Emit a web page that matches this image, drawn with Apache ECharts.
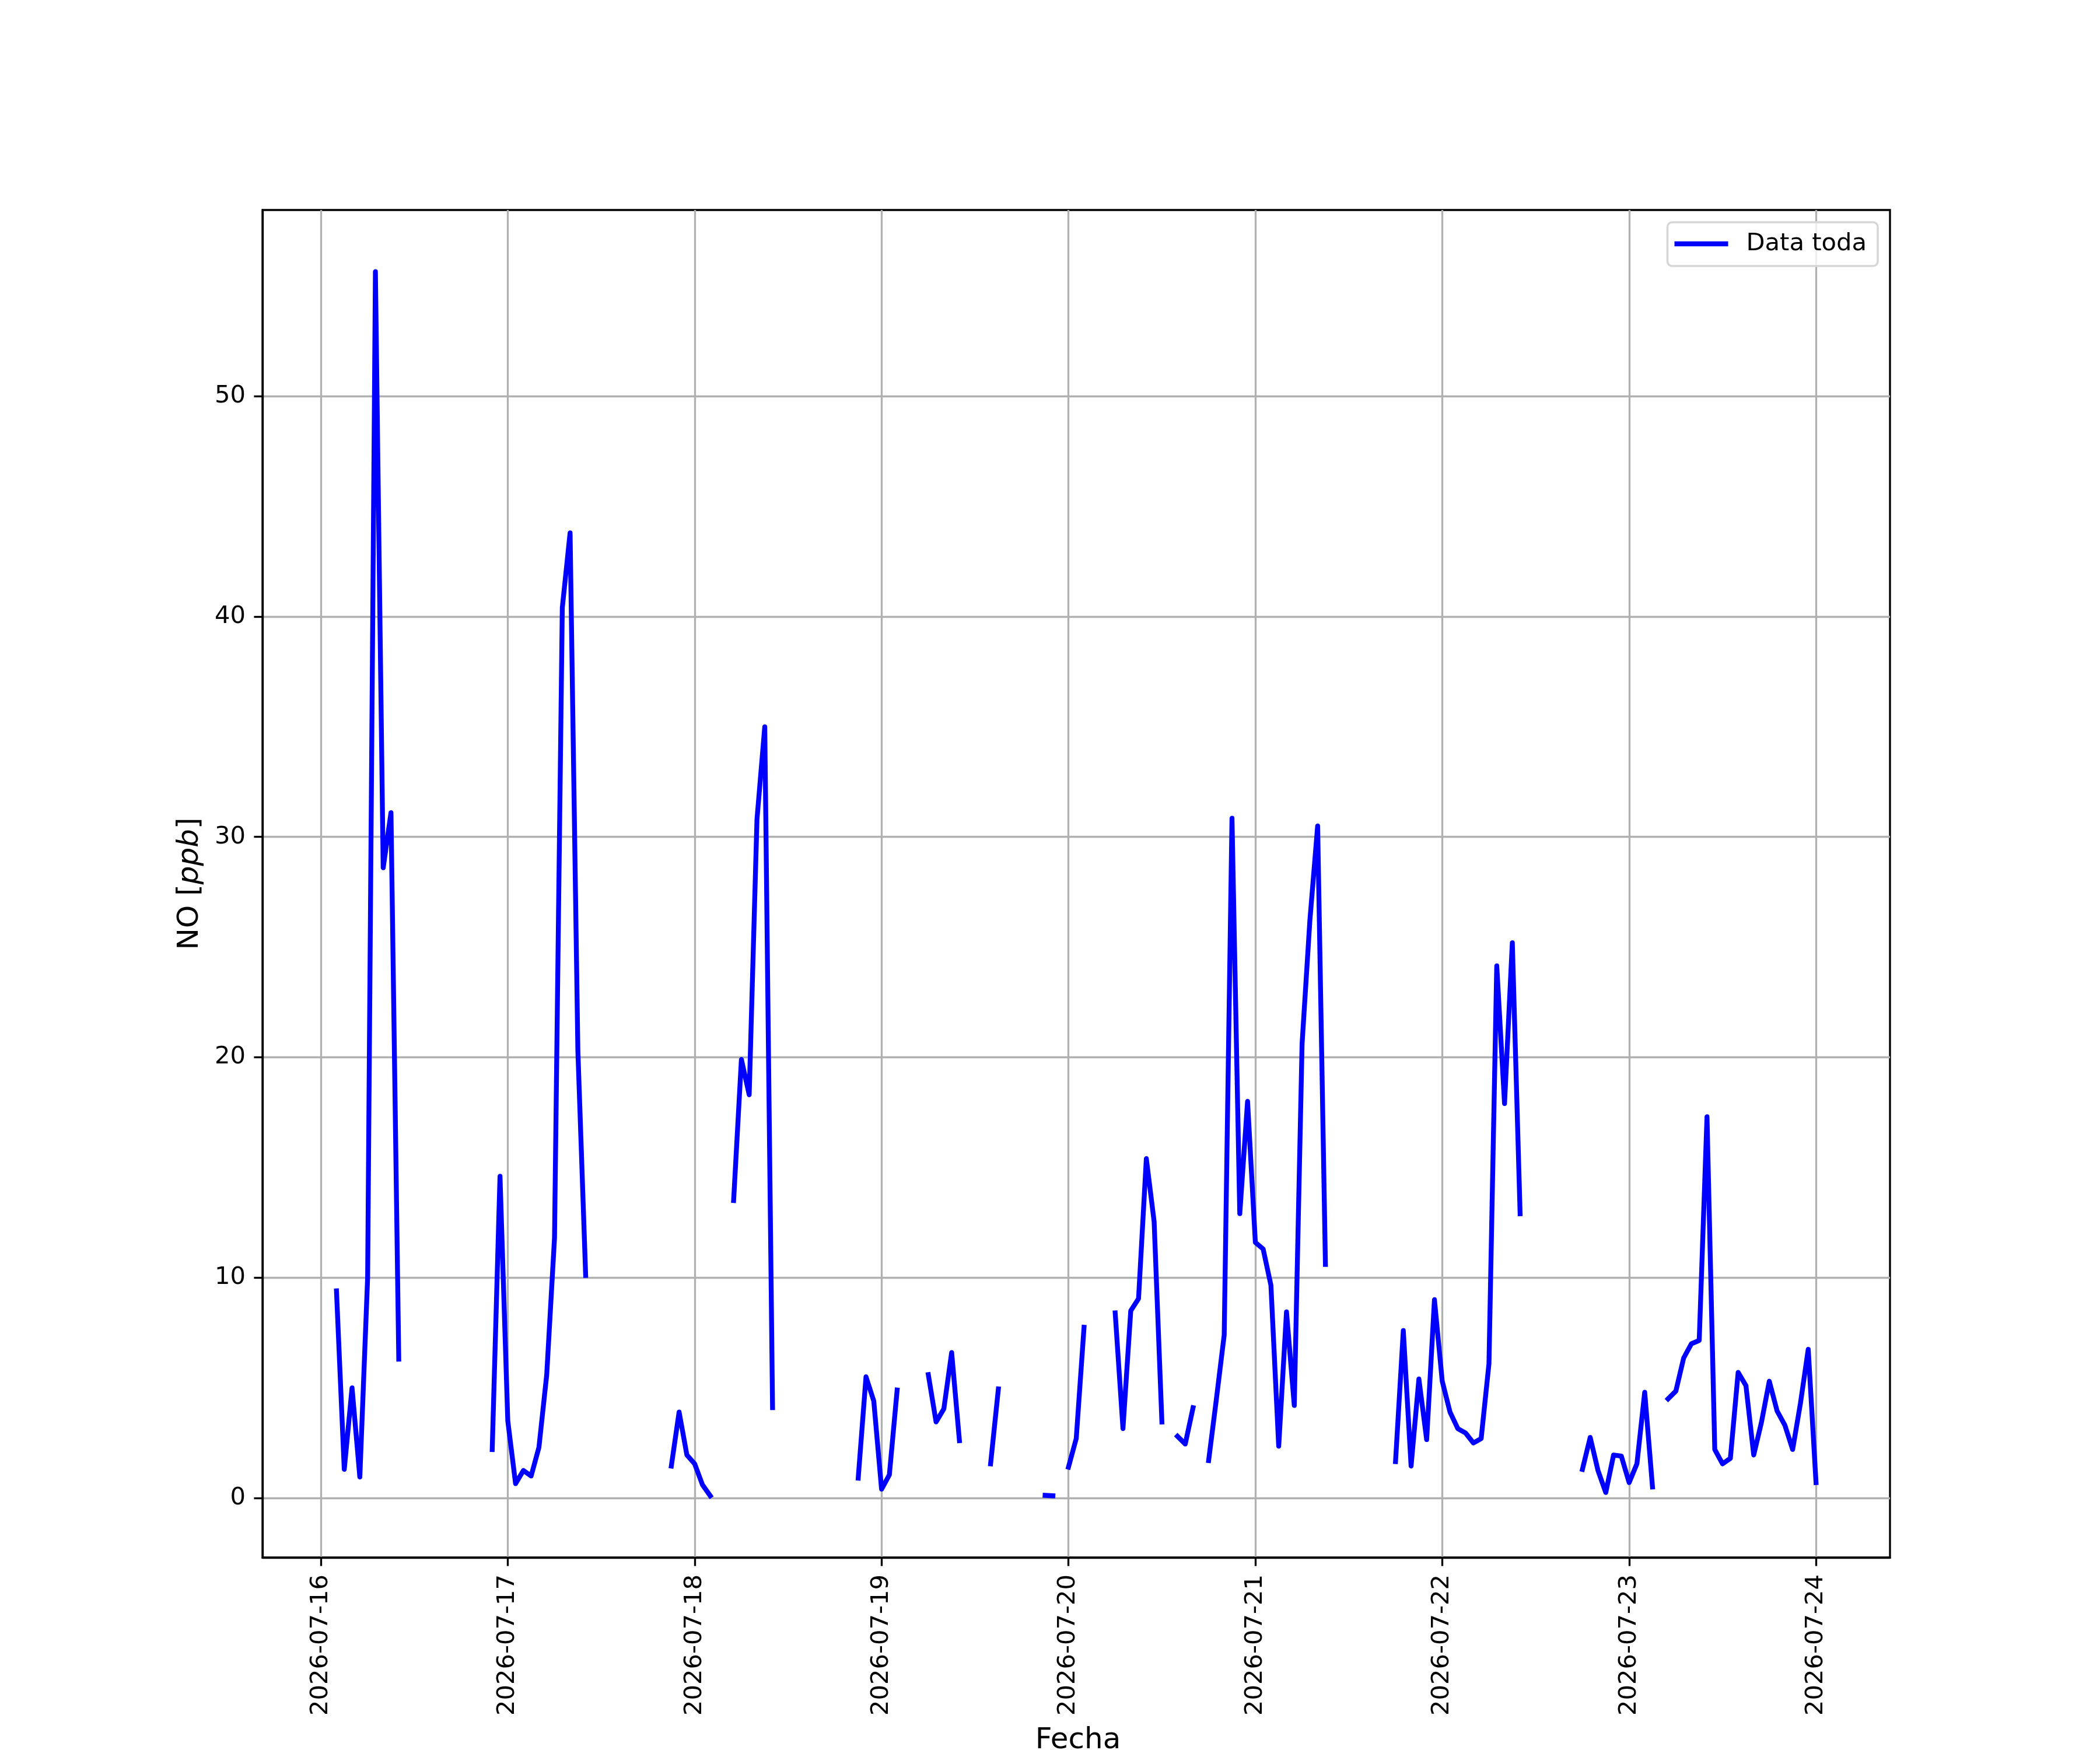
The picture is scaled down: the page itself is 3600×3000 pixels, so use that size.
<!DOCTYPE html>
<html>
<head>
<meta charset="utf-8">
<script src="https://cdn.jsdelivr.net/npm/echarts@6/dist/echarts.min.js"></script>
<style>
html,body{margin:0;padding:0;background:#fff;}
#chart{width:3600px;height:3000px;}
</style>
</head>
<body>
<div id="chart"></div>
<script>
// ---------------- data (hourly NO concentrations, ppb) ----------------
const seriesName = 'Data toda';
const segmentStarts = [
  '2026-07-16T02:00:00', '2026-07-16T22:00:00', '2026-07-17T21:00:00',
  '2026-07-18T05:00:00', '2026-07-18T21:00:00', '2026-07-19T06:00:00',
  '2026-07-19T14:00:00', '2026-07-19T21:00:00', '2026-07-20T00:00:00',
  '2026-07-20T06:00:00', '2026-07-20T14:00:00', '2026-07-20T18:00:00',
  '2026-07-21T18:00:00', '2026-07-22T18:00:00', '2026-07-23T05:00:00'
];
const seg1  = [9.4, 1.3, 5.0, 0.95, 10.0, 55.65, 28.6, 31.1, 6.3];
const seg2  = [2.2, 14.6, 3.5, 0.65, 1.25, 1.0, 2.3, 5.6, 11.8, 40.4, 43.8, 20.3, 10.1];
const seg3  = [1.45, 3.9, 1.95, 1.55, 0.6, 0.1];
const seg4  = [13.5, 19.9, 18.3, 30.8, 35.0, 4.1];
const seg5  = [0.9, 5.5, 4.4, 0.4, 1.05, 4.9];
const seg6  = [5.6, 3.45, 4.05, 6.6, 2.6];
const seg7  = [1.55, 4.95];
const seg8  = [0.12, 0.1];
const seg9  = [1.4, 2.7, 7.75];
const seg10 = [8.4, 3.15, 8.5, 9.05, 15.4, 12.55, 3.45];
const seg11 = [2.8, 2.45, 4.1];
const seg12 = [1.7, 4.5, 7.4, 30.85, 12.9, 18.0, 11.6, 11.3, 9.65, 2.35, 8.45, 4.2, 20.6, 26.2, 30.5, 10.6];
const seg13 = [1.65, 7.6, 1.45, 5.4, 2.65, 9.0, 5.3, 3.9, 3.15, 2.95, 2.5, 2.7, 6.1, 24.15, 17.9, 25.2, 12.9];
const seg14 = [1.3, 2.75, 1.25, 0.25, 1.95, 1.9, 0.7, 1.55, 4.8, 0.5];
const seg15 = [4.5, 4.85, 6.35, 7.0, 7.15, 17.3, 2.2, 1.55, 1.8, 5.7, 5.1, 1.95, 3.45, 5.3, 3.95, 3.3, 2.2, 4.3, 6.75, 0.7];
const segments = [seg1, seg2, seg3, seg4, seg5, seg6, seg7, seg8, seg9, seg10, seg11, seg12, seg13, seg14, seg15];

const dayTicks = ['2026-07-16', '2026-07-17', '2026-07-18', '2026-07-19', '2026-07-20',
                  '2026-07-21', '2026-07-22', '2026-07-23', '2026-07-24'];
const yTicks = [0, 10, 20, 30, 40, 50];
const xRange = ['2026-07-15T16:30:00', '2026-07-24T09:30:00'];
const yRange = [-2.7, 58.45];

// ---------------- build ----------------
const HOUR = 3600000;
const lineData = [];
segments.forEach((vals, i) => {
  const t0 = new Date(segmentStarts[i]).getTime();
  vals.forEach((v, k) => lineData.push([t0 + k * HOUR, v]));
  if (i < segments.length - 1) lineData.push([t0 + vals.length * HOUR, null]);
});
const dayTickValues = dayTicks.map(d => new Date(d + 'T00:00:00').getTime());
const pad = n => (n < 10 ? '0' : '') + n;
const fmtDay = v => { const d = new Date(v); return d.getFullYear() + '-' + pad(d.getMonth() + 1) + '-' + pad(d.getDate()); };

const FONT = 'DejaVu Sans';
const TICKFS = 41.67;
const LW = 3.33;

const chart = echarts.init(document.getElementById('chart'), null, {renderer: 'canvas', width: 3600, height: 3000});
chart.setOption({
  animation: false,
  backgroundColor: '#ffffff',
  grid: {left: 450, right: 360, top: 360, bottom: 330, show: true, borderColor: '#000', borderWidth: LW, backgroundColor: 'transparent'},
  xAxis: {
    type: 'value',
    min: new Date(xRange[0]).getTime(),
    max: new Date(xRange[1]).getTime(),
    axisLine: {show: true, onZero: false, lineStyle: {color: '#000', width: LW}},
    axisTick: {show: true, inside: false, length: 14.6, lineStyle: {color: '#000', width: LW}, customValues: dayTickValues},
    axisLabel: {customValues: dayTickValues, rotate: 90, margin: 29, fontFamily: FONT, fontSize: TICKFS, color: '#000',
                formatter: v => fmtDay(v), hideOverlap: false},
    splitLine: {show: true, lineStyle: {color: '#b0b0b0', width: LW}}
  },
  yAxis: {
    type: 'value',
    min: yRange[0], max: yRange[1],
    axisLine: {show: true, onZero: false, lineStyle: {color: '#000', width: LW}},
    axisTick: {show: true, inside: false, length: 14.6, lineStyle: {color: '#000', width: LW}, customValues: yTicks},
    axisLabel: {customValues: yTicks, margin: 29, fontFamily: FONT, fontSize: TICKFS, color: '#000'},
    splitLine: {show: true, lineStyle: {color: '#b0b0b0', width: LW}}
  },
  legend: {
    show: true, right: 381, top: 381, orient: 'vertical', selectedMode: false,
    data: [{name: seriesName, icon: 'rect'}],
    itemWidth: 92, itemHeight: 8.33,
    padding: [16, 19, 17, 12],
    borderColor: '#d6d6d6', borderWidth: 3.5, borderRadius: 8,
    backgroundColor: 'rgba(255,255,255,0.8)',
    textStyle: {fontFamily: FONT, fontSize: TICKFS, color: '#000', padding: [0, 0, 0, 26], lineHeight: 42}
  },
  graphic: [
    {type: 'text', x: 326, y: 1515, rotation: Math.PI / 2,
     style: {text: '{n|NO [}{i|ppb}{n|]}', align: 'center', verticalAlign: 'middle',
             rich: {n: {fontFamily: FONT, fontSize: 50, fill: '#000'},
                    i: {fontFamily: FONT, fontSize: 50, fontStyle: 'italic', fill: '#000'}}}},
    {type: 'text', x: 1848, y: 2984,
     style: {text: 'Fecha', align: 'center', verticalAlign: 'middle', fontFamily: FONT, fontSize: 50, fill: '#000'}}
  ],
  series: [{
    type: 'line', name: seriesName, data: lineData,
    showSymbol: false, symbol: 'none', connectNulls: false,
    lineStyle: {color: '#0000ff', width: 8.33, cap: 'square', join: 'round'},
    itemStyle: {color: '#0000ff'}
  }]
});
</script>
</body>
</html>
